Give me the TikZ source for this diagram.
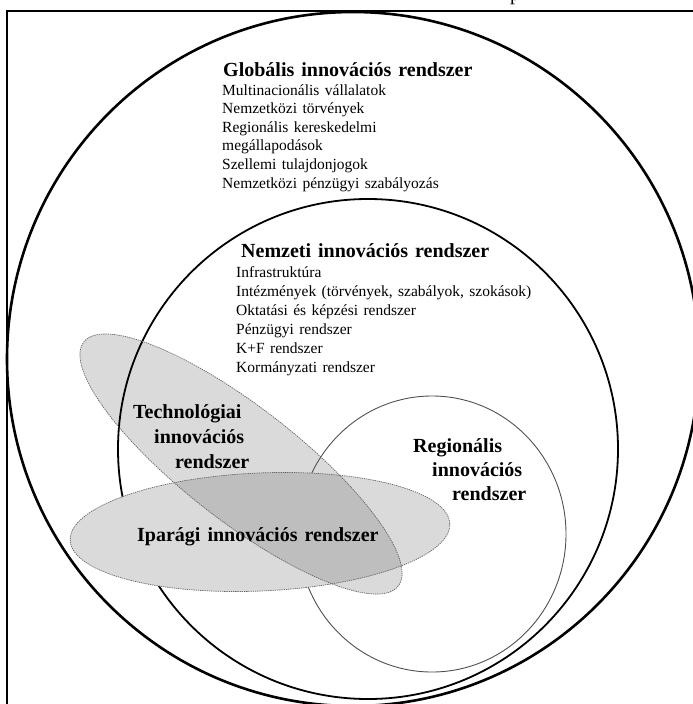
\documentclass[tikz,border=0pt]{standalone}
\usepackage{fontspec}
\setmainfont{Liberation Serif}[WordSpace=1.4]
\definecolor{lgray}{RGB}{218,218,218}
\definecolor{dgray}{RGB}{190,190,190}
\definecolor{bordergray}{RGB}{100,100,100}
\definecolor{regline}{RGB}{80,80,80}
\begin{document}
\begin{tikzpicture}[x=1pt,y=-1pt,
  lbl/.style={font=\fontsize{20}{24}\selectfont\bfseries, inner sep=0pt, anchor=base west},
  itm/.style={font=\fontsize{15.5}{19}\selectfont, inner sep=0pt, anchor=base west},
  dashborder/.style={draw=bordergray, line width=0.7pt, dash pattern=on 1.3pt off 0.9pt},
  techtf/.style={rotate around={-37.8:(241,464)}},
  indtf/.style={rotate around={2.5:(260,532)}}]
\useasboundingbox (0,0) rectangle (693,704);
\begin{scope}
\clip (0,0) rectangle (693,704);
\node[font=\fontsize{20}{24}\selectfont, inner sep=0pt, anchor=base west] (pfrag) at (510,1) {p};
% frame
\draw[line width=2pt] (7,720) -- (7,11) -- (720,11);
% global circle
\draw[line width=2.6pt] (353,359) ellipse [x radius=346, y radius=347];
% technological ellipse fill
\fill[lgray, techtf] (241,464) ellipse [x radius=199, y radius=57];
% national and regional circles
\draw[line width=1.8pt] (368,449) circle [radius=250];
\draw[line width=0.9pt, regline] (432,534) ellipse [x radius=134, y radius=138];
% industrial ellipse fill
\fill[lgray, indtf] (260,532) ellipse [x radius=190, y radius=59];
\begin{scope}
  \clip[techtf] (241,464) ellipse [x radius=199, y radius=57];
  \fill[dgray, indtf] (260,532) ellipse [x radius=190, y radius=59];
\end{scope}
\draw[dashborder, techtf] (241,464) ellipse [x radius=199, y radius=57];
\draw[dashborder, indtf] (260,532) ellipse [x radius=190, y radius=59];
\end{scope}
% texts: global
\node[lbl] (gtitle) at (223,76) {Globális innovációs rendszer};
\node[itm] (g1) at (222,95) {Multinacionális vállalatok};
\node[itm] (g2) at (222,113.6) {Nemzetközi törvények};
\node[itm] (g3) at (222,132.2) {Regionális kereskedelmi};
\node[itm] (g4) at (222,150.8) {megállapodások};
\node[itm] (g5) at (222,169.4) {Szellemi tulajdonjogok};
\node[itm] (g6) at (222,188) {Nemzetközi pénzügyi szabályozás};
% texts: national
\node[lbl] (ntitle) at (241,257) {Nemzeti innovációs rendszer};
\node[itm] (n1) at (236,277) {Infrastruktúra};
\node[itm] (n2) at (236,296) {Intézmények (törvények, szabályok, szokások)};
\node[itm] (n3) at (236,315) {Oktatási és képzési rendszer};
\node[itm] (n4) at (236,334) {Pénzügyi rendszer};
\node[itm] (n5) at (236,353) {K+F rendszer};
\node[itm] (n6) at (236,372) {Kormányzati rendszer};
% technological
\node[lbl] (t1) at (133,418) {Technológiai};
\node[lbl] (t2) at (154,443) {innovációs};
\node[lbl] (t3) at (175,468) {rendszer};
% regional
\node[lbl] (r1) at (413,452) {Regionális};
\node[lbl] (r2) at (432,476) {innovációs};
\node[lbl] (r3) at (452,500) {rendszer};
% industrial
\node[lbl] (i1) at (137,541) {Iparági innovációs rendszer};
\end{tikzpicture}
\end{document}
